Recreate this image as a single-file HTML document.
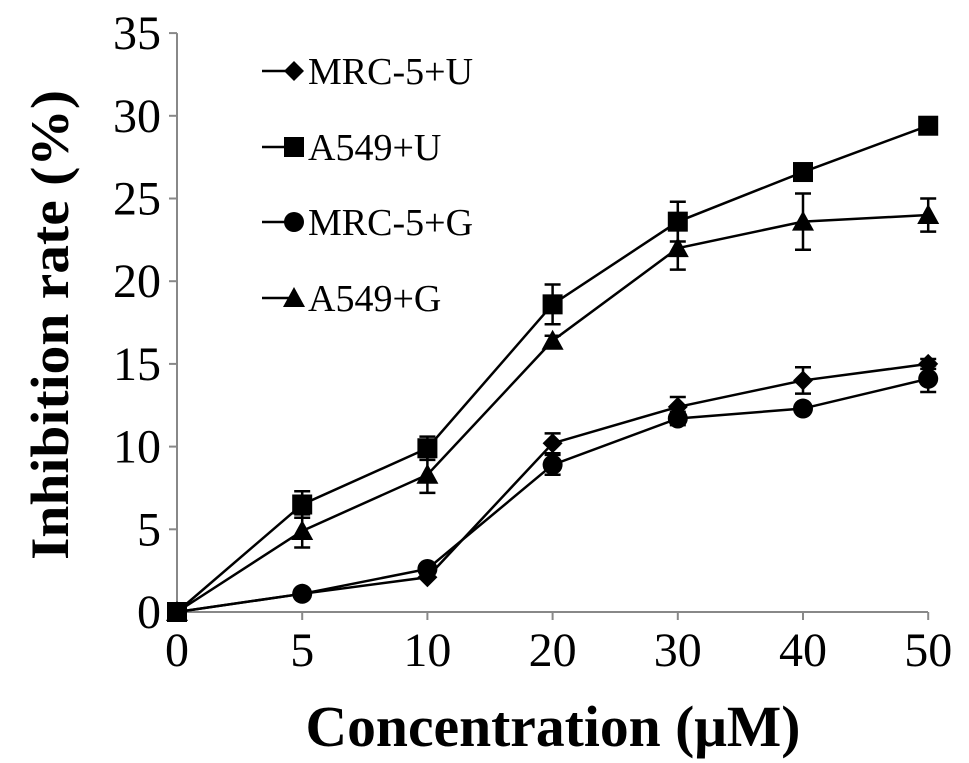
<!DOCTYPE html>
<html><head><meta charset="utf-8"><style>
html,body{margin:0;padding:0;background:#fff}
svg{display:block;font-family:"Liberation Serif",serif}
</style></head><body>
<svg id="chart" width="969" height="763" viewBox="0 0 969 763">
<g id="axes"></g><g id="series"></g><g id="legend"></g>
<text x="553" y="746" font-size="58" font-weight="bold" text-anchor="middle" textLength="495" lengthAdjust="spacingAndGlyphs">Concentration (μM)</text>
<text transform="translate(68,325) rotate(-90)" font-size="54" font-weight="bold" text-anchor="middle" textLength="470" lengthAdjust="spacingAndGlyphs">Inhibition rate (%)</text>
</svg>
<script>
const categories=["0","5","10","20","30","40","50"];
const yTicks=[0,5,10,15,20,25,30,35];
const seriesNames=["MRC-5+U","A549+U","MRC-5+G","A549+G"];
const mrc5U=[0,1.1,2.1,10.2,12.4,14.0,15.0];
const a549U=[0,6.5,9.9,18.6,23.6,26.6,29.4];
const mrc5G=[0,1.1,2.6,8.9,11.7,12.3,14.1];
const a549G=[0,4.9,8.3,16.4,22.0,23.6,24.0];
const mrc5UErr=[0,0,0,0.6,0.6,0.8,0.3];
const a549UErr=[0,0.8,0.7,1.2,1.2,0,0];
const mrc5GErr=[0,0,0.2,0.6,0.4,0,0.8];
const a549GErr=[0,1.0,1.1,0.3,1.3,1.7,1.0];
const NS="http://www.w3.org/2000/svg";
function xs(i){return 177+i*125.2;}
function ys(v){return 612-v*16.54;}
function mk(tag,attrs,parent){const e=document.createElementNS(NS,tag);for(const k in attrs)e.setAttribute(k,attrs[k]);parent.appendChild(e);return e;}
const axes=document.getElementById('axes');
let yl=mk('line',{x1:177,y1:ys(35),x2:177,y2:612,stroke:'#888','stroke-width':2},axes);


let xl=mk('line',{x1:170,y1:612,x2:928,y2:612,stroke:'#888','stroke-width':2},axes);


yTicks.forEach(v=>{
 mk('line',{x1:169,y1:ys(v),x2:177,y2:ys(v),stroke:'#888','stroke-width':2},axes);
 const t=mk('text',{x:161,y:ys(v)+16,'font-size':48,'text-anchor':'end'},axes);t.textContent=v;
 
 
});
categories.forEach((c,i)=>{
 mk('line',{x1:xs(i),y1:612,x2:xs(i),y2:620,stroke:'#888','stroke-width':2},axes);
 const t=mk('text',{x:xs(i),y:666,'font-size':48,'text-anchor':'middle'},axes);t.textContent=c;
 
 
});
function marker(type,x,y,p){
 if(type==='diamond')return mk('polygon',{points:`${x},${y-10} ${x+10},${y} ${x},${y+10} ${x-10},${y}`},p);
 if(type==='square')return mk('rect',{x:x-10,y:y-10,width:20,height:20},p);
 if(type==='circle')return mk('circle',{cx:x,cy:y,r:10},p);
 return mk('polygon',{points:`${x},${y-11} ${x+11},${y+9} ${x-11},${y+9}`},p);
}
const all=[[mrc5U,mrc5UErr,'diamond'],[a549U,a549UErr,'square'],[mrc5G,mrc5GErr,'circle'],[a549G,a549GErr,'triangle']];
const sg=document.getElementById('series');
all.forEach(([vals,errs,type],si)=>{
 const g=mk('g',{},sg);
 
 
 mk('polyline',{points:vals.map((v,i)=>xs(i)+','+ys(v)).join(' '),fill:'none',stroke:'#000','stroke-width':2.5},g);
 vals.forEach((v,i)=>{
  if(errs[i]>0){
   const x=xs(i),a=ys(v+errs[i]),b=ys(v-errs[i]);
   mk('path',{d:`M${x},${a}V${b}M${x-8},${a}H${x+8}M${x-8},${b}H${x+8}`,stroke:'#000','stroke-width':2.5,fill:'none'},g);
  }
  const m=marker(type,xs(i),ys(v),g);
  
  
 });
});
const lg=document.getElementById('legend');
const ly=[71,147,222,298];
seriesNames.forEach((n,i)=>{
 const g=mk('g',{},lg);
 
 
 mk('line',{x1:262,y1:ly[i],x2:294,y2:ly[i],stroke:'#000','stroke-width':2.5},g);
 marker(all[i][2],294,ly[i],g);
 const t=mk('text',{x:308,y:ly[i]+13,'font-size':38},g);t.textContent=n;
});
</script>
</body></html>
